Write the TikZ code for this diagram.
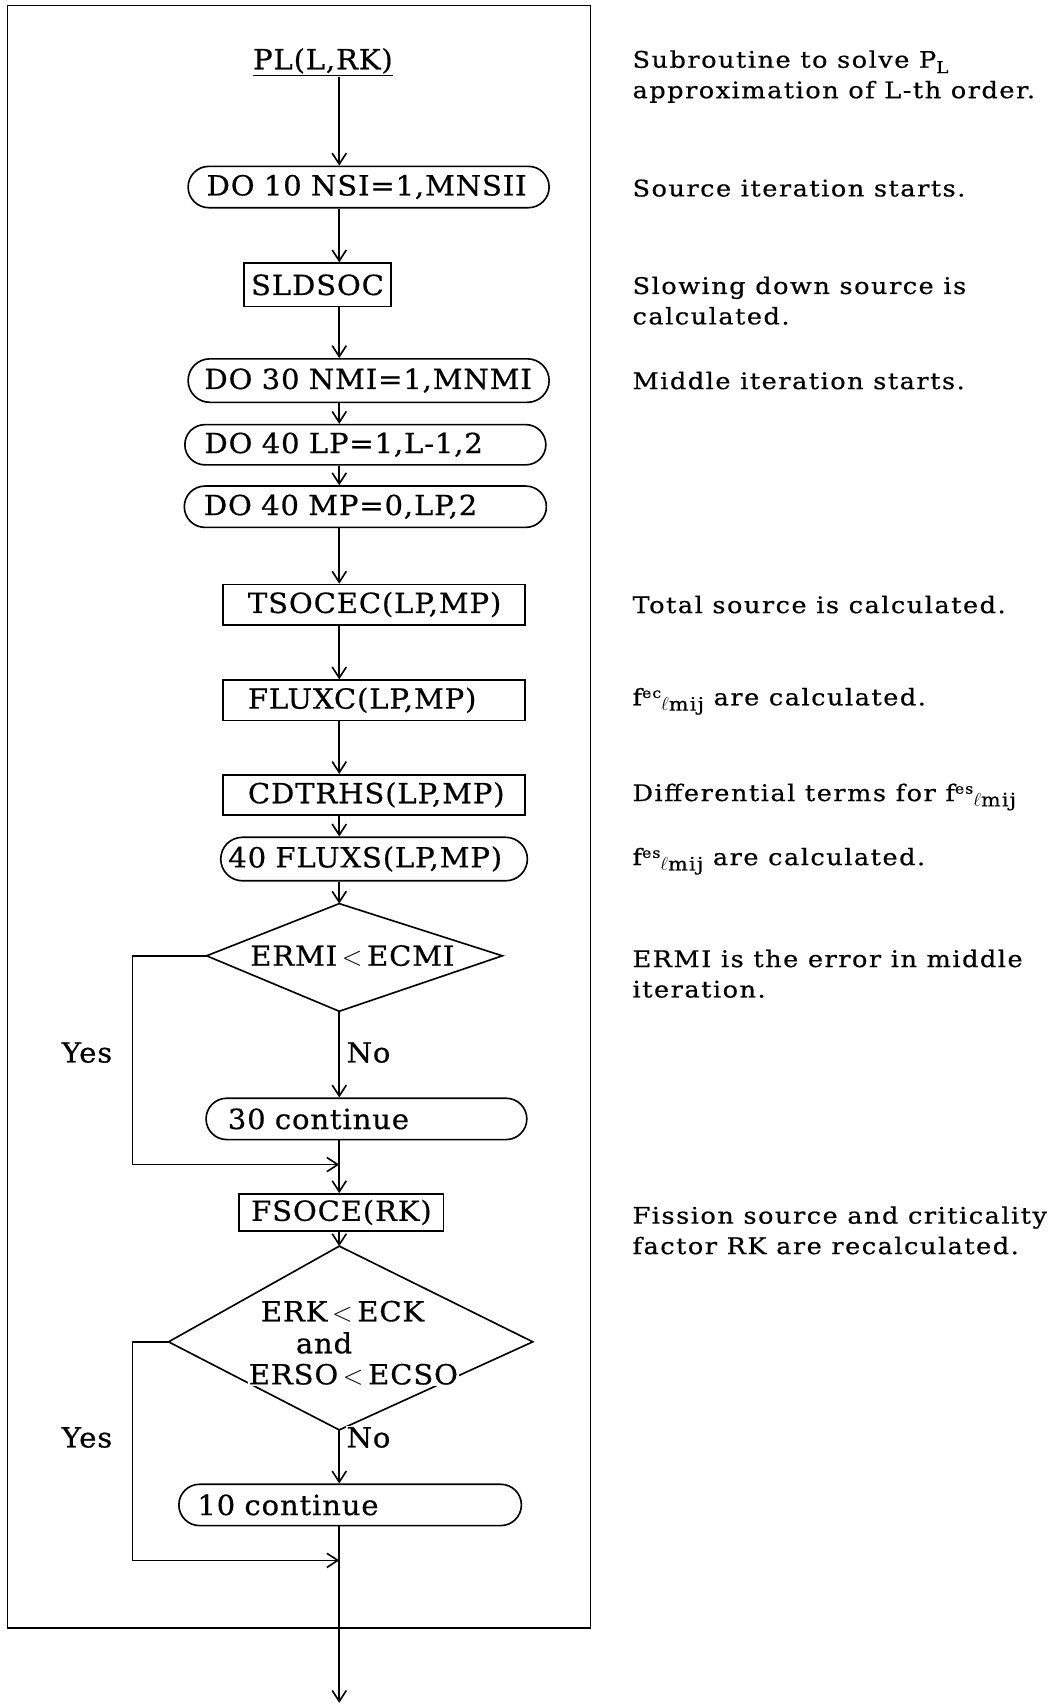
\documentclass[tikz,border=0pt]{standalone}
\usepackage{fontspec}
\setmainfont{DejaVu Serif}[FakeBold=0.6, FakeStretch=1.05, LetterSpace=3]
\newfontfamily\notefont{DejaVu Serif}[FakeBold=0.6, FakeStretch=1.12, LetterSpace=6.6]
\usetikzlibrary{arrows.meta}
% f with a raised pair of letters and a lowered \ell-index
\newcommand\fidx[1]{f\raisebox{0.62ex}{\fontsize{13}{13}\selectfont #1}\raisebox{-0.45ex}{\fontsize{17}{17}\selectfont$\ell$mij}}
\begin{document}
\begin{tikzpicture}[x=1pt,y=-1pt,
  line width=1.5pt,
  every node/.style={inner sep=0pt},
  flow/.style={font=\fontsize{25.5}{29}\selectfont},
  note/.style={font=\notefont\fontsize{21}{28}\selectfont, anchor=west, align=left},
  box/.style={flow, draw, align=left},
  cbox/.style={flow, draw, align=center},
  term/.style={flow, draw, align=left},
  arr/.style={-{Straight Barb[length=10pt,width=13pt]}},
  lbl/.style={flow, fill=white, inner sep=1pt}
]
\useasboundingbox (0,0) rectangle (972,1568);

% outer frame of the subroutine
\draw (7,5) rectangle (543,1497);

% main vertical axis and the left return line
\coordinate (ax) at (312,0);
\coordinate (lx) at (122,0);

% flow elements
\node[flow] (pl) at (297,57) {\underline{PL(L,RK)}};
\node[term, rounded corners=19pt, minimum height=38pt, text width=298pt, inner xsep=17pt] (do10) at (339,172) {\mbox{DO 10 NSI=1,MNSII}};
\node[cbox, minimum width=135pt, minimum height=40pt] (sld) at (292,262) {SLDSOC};
\node[term, rounded corners=20pt, minimum height=40pt, text width=302pt, inner xsep=15pt] (do30) at (339,350) {\mbox{DO 30 NMI=1,MNMI}};
\node[term, rounded corners=18.5pt, minimum height=37pt, text width=296pt, inner xsep=18pt] (do40l) at (336,409) {\mbox{DO 40 LP=1,L-1,2}};
\node[term, rounded corners=19pt, minimum height=38pt, text width=297pt, inner xsep=18pt] (do40m) at (336,466) {\mbox{DO 40 MP=0,LP,2}};
\node[box, minimum height=37pt, text width=232pt, inner xsep=23pt] (tso) at (344,556) {TSOCEC(LP,MP)};
\node[box, minimum height=37pt, text width=232pt, inner xsep=23pt] (flc) at (344,644) {FLUXC(LP,MP)};
\node[box, minimum height=37pt, text width=232pt, inner xsep=23pt] (cdt) at (344,731) {CDTRHS(LP,MP)};
\node[term, rounded corners=20pt, minimum height=40pt, text width=268pt, inner xsep=7pt] (flx) at (344,790) {\mbox{40 FLUXS(LP,MP)}};

% first decision
\coordinate (d1t) at (312,831);
\coordinate (d1r) at (462,879);
\coordinate (d1b) at (312,930);
\coordinate (d1l) at (190,879);
\draw (d1t) -- (d1r) -- (d1b) -- (d1l) -- cycle;
\node[flow] (d1) at (324,879) {ERMI\,$<$\,ECMI};
\node[lbl, anchor=west] (no1) at (317,968) {No};
\node[flow] (yes1) at (80,968) {Yes};

\node[term, rounded corners=19pt, minimum height=38pt, text width=255pt, inner xsep=20pt] (c30) at (337,1029) {\mbox{30 continue}};
\coordinate (j1) at (312,1071);
\node[cbox, minimum width=188pt, minimum height=34pt] (fso) at (314,1115) {FSOCE(RK)};

% second decision
\coordinate (d2t) at (312,1146);
\coordinate (d2r) at (490,1234);
\coordinate (d2b) at (312,1315);
\coordinate (d2l) at (155,1234);
\draw (d2t) -- (d2r) -- (d2b) -- (d2l) -- cycle;
\node[lbl] (d2a) at (315,1206) {ERK\,$<$\,ECK};
\node[lbl] (d2b2) at (298,1235) {and};
\node[lbl] (d2c) at (325,1264) {ERSO\,$<$\,ECSO};
\node[lbl, anchor=west] (no2) at (317,1322) {No};
\node[flow] (yes2) at (80,1322) {Yes};

\node[term, rounded corners=19pt, minimum height=38pt, text width=281pt, inner xsep=17pt] (c10) at (322,1384) {\mbox{10 continue}};
\coordinate (j2) at (312,1435);
\coordinate (out) at (312,1566);

% connectors
\draw[arr] (pl.south -| ax) -- (do10.north -| ax);
\draw[arr] (do10.south -| ax) -- (sld.north -| ax);
\draw[arr] (sld.south -| ax) -- (do30.north -| ax);
\draw[arr] (do30.south -| ax) -- (do40l.north -| ax);
\draw[arr] (do40l.south -| ax) -- (do40m.north -| ax);
\draw[arr] (do40m.south -| ax) -- (tso.north -| ax);
\draw[arr] (tso.south -| ax) -- (flc.north -| ax);
\draw[arr] (flc.south -| ax) -- (cdt.north -| ax);
\draw[arr] (cdt.south -| ax) -- (flx.north -| ax);
\draw[arr] (flx.south -| ax) -- (d1t);
\draw[arr] (d1b) -- (c30.north -| ax);
\draw[arr] (c30.south -| ax) -- (fso.north -| ax);
\draw[arr] (d1l) -- (lx |- d1l) -- (lx |- j1) -- (j1);
\draw[arr] (fso.south -| ax) -- (d2t);
\draw[arr] (d2b) -- (c10.north -| ax);
\draw[arr] (d2l) -- (lx |- d2l) -- (lx |- j2) -- (j2);
\draw[arr] (c10.south -| ax) -- (out);

% explanatory notes
\node[note] (n1) at (581,70.5) {Subroutine to solve P\raisebox{-0.45ex}{\fontsize{15}{15}\selectfont L}\\approximation of L-th order.};
\node[note] (n2) at (581,173) {Source iteration starts.};
\node[note] (n3) at (581,276.5) {Slowing down source is\\calculated.};
\node[note] (n4) at (581,350) {Middle iteration starts.};
\node[note] (n5) at (581,556) {Total source is calculated.};
\node[note] (n6) at (581,645) {\fidx{ec} are calculated.};
\node[note] (n7) at (581,733) {Differential terms for \fidx{es}};
\node[note] (n8) at (581,792) {\fidx{es} are calculated.};
\node[note] (n9) at (581,895.5) {ERMI is the error in middle\\iteration.};
\node[note] (n10) at (581,1131.5) {Fission source and criticality\\factor RK are recalculated.};
\end{tikzpicture}
\end{document}
